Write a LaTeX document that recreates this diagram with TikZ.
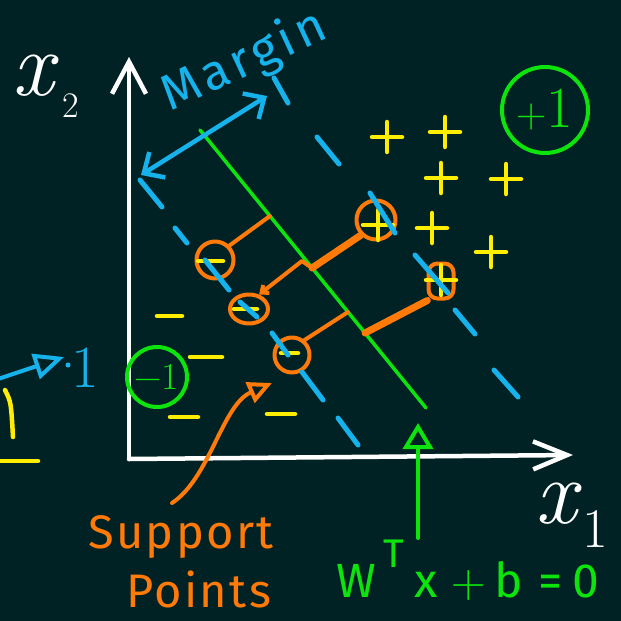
\documentclass[tikz,border=0pt]{standalone}
\usepackage{fontspec}
\setmainfont{Fira Sans}
\newfontfamily\marginfont[LetterSpace=9]{Fira Sans}
\newfontfamily\suppfont[LetterSpace=5]{Fira Sans}
\newfontfamily\lmr{Latin Modern Roman}
\usetikzlibrary{arrows.meta,shapes.geometric}
\definecolor{bg}{RGB}{1,34,36}
\definecolor{cy}{RGB}{22,178,236}
\definecolor{gr}{RGB}{12,228,12}
\definecolor{yl}{RGB}{255,238,0}
\definecolor{og}{RGB}{255,122,8}
\begin{document}
\begin{tikzpicture}[x=1pt,y=-1pt,line cap=round,line join=round,
  axisline/.style={white,line width=4.5pt},
  hyper/.style={gr,line width=3.5pt},
  margdash/.style={cy,line width=5pt},
  ymark/.style={yl,line width=4.5pt},
  ocirc/.style={draw=og,line width=4pt,circle,inner sep=0pt},
  othin/.style={og,line width=4pt},
  othick/.style={og,line width=7pt},
  gcirc/.style={draw=gr,line width=4pt,circle,inner sep=0pt,text=gr},
]
\fill[bg] (0,0) rectangle (621,621);
\useasboundingbox (0,0) rectangle (621,621);

% axes
\coordinate (O) at (129,459);
\coordinate (ytip) at (129,57);
\coordinate (xtip) at (573,455);
\draw[axisline,-{Straight Barb[length=32pt,width=34pt]}] (O) -- (ytip);
\draw[axisline,-{Straight Barb[length=34pt,width=28pt]}] (O) -- (xtip);
\node[white,anchor=base west,inner sep=0pt,font=\lmr\itshape\fontsize{92}{92}\selectfont] (xtwo) at (12,95)
  {x\hspace{9pt}\raisebox{-22pt}{\upshape\fontsize{36}{36}\selectfont 2}};
\node[white,anchor=base west,inner sep=0pt,font=\lmr\itshape\fontsize{92}{92}\selectfont] (xone) at (535,523)
  {x\hspace{6pt}\raisebox{-24pt}{\upshape\fontsize{56}{56}\selectfont 1}};

% hyperplane
\coordinate (h1) at (200,130);
\coordinate (h2) at (426,408);
\draw[hyper] (h1) -- (h2);
\coordinate (g1) at (270,216);
\coordinate (g2) at (312,268);
\coordinate (g3) at (348,312);
\coordinate (g4) at (365,333);
\coordinate (k2) at (302,261);

% support circles
\node[ocirc,minimum size=37pt] (c1) at (215,260) {};
\node[draw=og,line width=4pt,ellipse,minimum width=38pt,minimum height=29pt,inner sep=0pt] (c2) at (249,309) {};
\node[ocirc,minimum size=39pt] (c3) at (376,220) {};
\node[draw=og,line width=4pt,rectangle,rounded corners=9pt,minimum width=25pt,minimum height=35pt,inner sep=0pt] (c4) at (441,281) {};
\node[ocirc,minimum size=35pt] (c5) at (292,355) {};

% orange connectors
\draw[othin] (c1.45) -- (g1);
\draw[othin,-{Straight Barb[length=6pt,width=10pt]}] (g2) -- (k2) -- (c2.55);
\draw[othick] (g2) -- (c3.225);
\draw[othin] (c5.50) -- (g3);
\draw[othick] (g4) -- (c4.235);

% plus and minus marks
\foreach \px/\py in {387/137,445/132,441/178,506/179,432/228,491/252,378/225,441/280}
  \draw[ymark] (\px-15,\py) -- (\px+15,\py) (\px,\py-15) -- (\px,\py+15);
\foreach \ax/\bx/\yy in {198/223/261,234/257/309,281/298/353,157/182/316,190/222/357,170/198/417,267/295/414}
  \draw[ymark] (\ax,\yy) -- (\bx,\yy);

% margin lines (dashed, hand drawn)
\foreach \ax/\ay/\bx/\by in {140/180/162/207,175/228/187/243,205/260/229/290,240/302/257/317,272/333/288/355,302/372/323/400,338/418/358/445,
  274/78/288/103,317/137/339/164,370/193/395/233,415/255/448/293,455/310/475/334,494/370/518/397}
  \draw[margdash] (\ax,\ay) -- (\bx,\by);

% margin arrow and text
\coordinate (mL) at (141,175);
\coordinate (mR) at (267,96);
\draw[cy,line width=4.5pt,{Straight Barb[length=16pt,width=30pt]}-{Straight Barb[length=16pt,width=30pt]}] (mL) -- (mR);
\node[cy,anchor=base west,inner sep=0pt,rotate=25,font=\marginfont\fontsize{50}{50}\selectfont] (mtext) at (170,112) {Margin};

% class circles
\node[gcirc,minimum size=86pt] (pone) at (545,110)
  {{\lmr\fontsize{42}{42}\selectfont +}{\lmr\fontsize{58}{58}\selectfont 1}\hspace{10pt}};
\node[gcirc,minimum size=60pt,font=\lmr\fontsize{38}{38}\selectfont] (mone) at (157,377) {−1};

% hyperplane label
\node[gr,anchor=base west,inner sep=0pt,font=\fontsize{48}{48}\selectfont] (wlab) at (336,597)
  {W\hspace{8pt}\raisebox{30pt}{\fontsize{40}{40}\selectfont T}\hspace{10pt}x\hspace{14pt}{\lmr +}\hspace{8pt}b\hspace{16pt}=\hspace{10pt}0};
\coordinate (wbase) at (418,538);
\coordinate (wtip) at (418,423);
\draw[gr,line width=4pt,-{Triangle[open,length=26pt,width=30pt]}] (wbase) -- (wtip);

% support points label
\node[og,anchor=base west,inner sep=0pt,font=\suppfont\fontsize{47}{47}\selectfont] (supp) at (88,548) {Support};
\node[og,anchor=base west,inner sep=0pt,font=\suppfont\fontsize{47}{47}\selectfont] (pts) at (126,607) {Points};
\coordinate (s0) at (172,503);
\coordinate (s1) at (272,383);
\draw[og,line width=4pt,-{Triangle[open,length=24pt,width=22pt]}] (s0) .. controls (210,478) and (222,405) .. (s1);

% left-edge remnants
\coordinate (a0) at (-2,379);
\coordinate (a1) at (64,357);
\draw[cy,line width=4pt,-{Triangle[open,length=30pt,width=26pt]}] (a0) -- (a1);
\node[cy,anchor=base,inner sep=0pt,font=\lmr\fontsize{60}{60}\selectfont] (lone) at (85,387) {1};
\fill[cy] (68,365) circle (2.5pt);
\draw[ymark] (5,390) .. controls (11,402) .. (13,437);
\draw[ymark] (0,461) -- (38,461);
\end{tikzpicture}
\end{document}
